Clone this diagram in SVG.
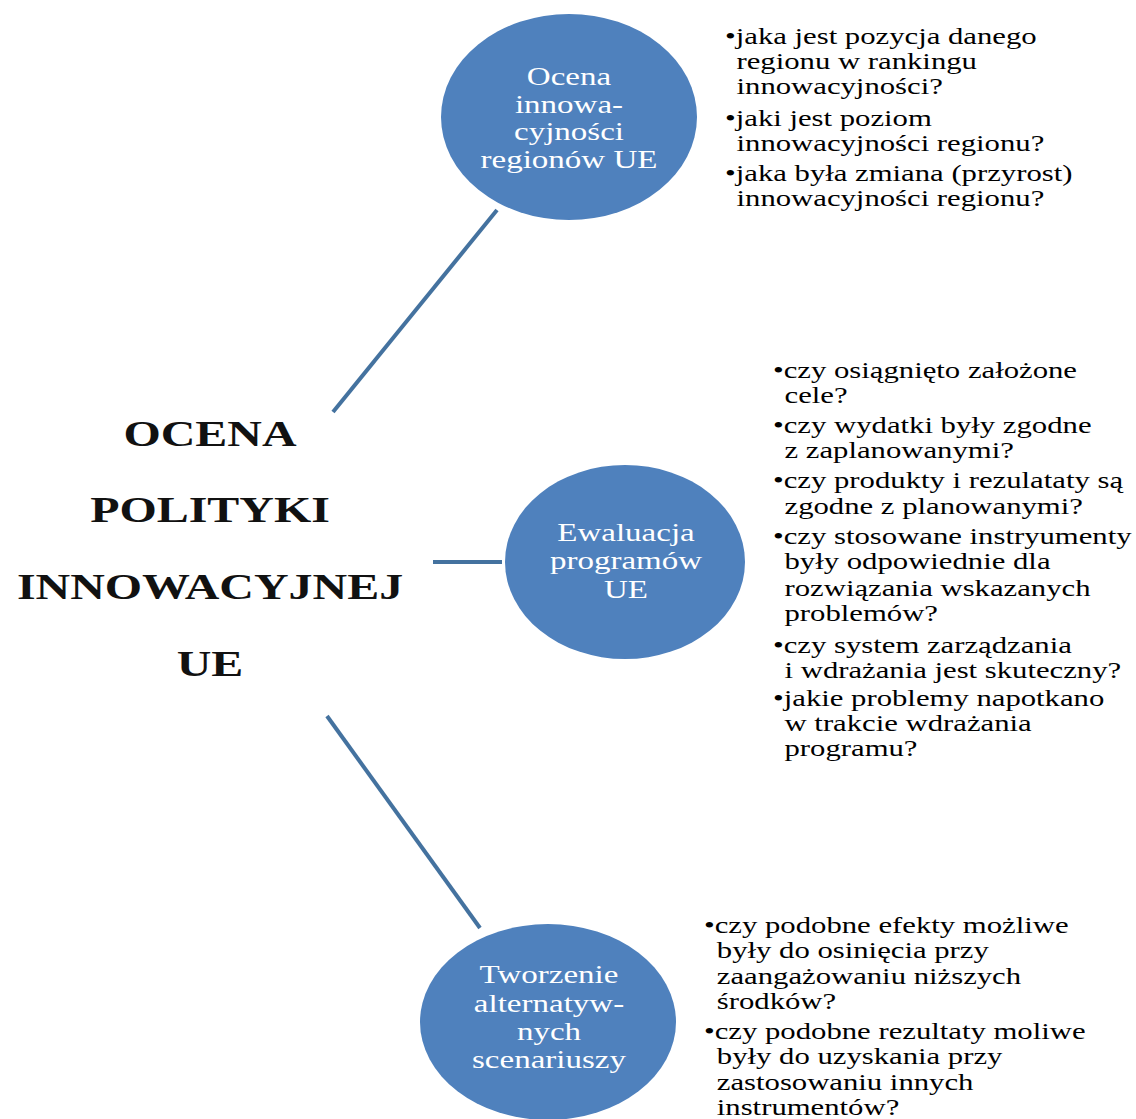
<svg xmlns="http://www.w3.org/2000/svg" width="1136" height="1119" viewBox="0 0 1136 1119">
<style>
.node{fill:#4F81BD;}
.ntxt{font-family:"Liberation Serif",serif;font-size:26px;fill:#ffffff;text-anchor:middle;}
.list{font-family:"Liberation Serif",serif;font-size:24px;fill:#000000;}
.title{font-family:"Liberation Serif",serif;font-size:35px;font-weight:bold;fill:#111111;text-anchor:middle;}
.conn{stroke:#44729F;stroke-width:4;fill:none;}
</style>
<rect width="1136" height="1119" fill="#ffffff"/>
<g id="connectors">
<line class="conn" x1="333" y1="412" x2="497" y2="210"/>
<line class="conn" x1="433" y1="562" x2="502" y2="562"/>
<line class="conn" x1="327" y1="716" x2="480" y2="928"/>
</g>
<g id="root">
<g transform="translate(210,0) scale(1.37,1)">
<text class="title" x="0" y="446">OCENA</text>
<text class="title" x="0" y="522">POLITYKI</text>
<text class="title" x="0" y="599">INNOWACYJNEJ</text>
<text class="title" x="0" y="676">UE</text>
</g>
</g>
<g id="node-ocena">
<ellipse class="node" cx="569" cy="117" rx="128" ry="103"/>
<g transform="translate(569,0) scale(1.27,1)">
<text class="ntxt" x="0" y="85">Ocena</text>
<text class="ntxt" x="0" y="113">innowa-</text>
<text class="ntxt" x="0" y="140">cyjności</text>
<text class="ntxt" x="0" y="168">regionów UE</text>
</g>
</g>
<g id="list-ocena">
<g transform="translate(725,0) scale(1.28,1)">
<text class="list" y="44"><tspan x="0">•jaka jest pozycja danego</tspan></text>
<text class="list" y="69"><tspan x="9">regionu w rankingu</tspan></text>
<text class="list" y="94"><tspan x="9">innowacyjności?</tspan></text>
<text class="list" y="126"><tspan x="0">•jaki jest poziom</tspan></text>
<text class="list" y="151"><tspan x="9">innowacyjności regionu?</tspan></text>
<text class="list" y="181"><tspan x="0">•jaka była zmiana (przyrost)</tspan></text>
<text class="list" y="206"><tspan x="9">innowacyjności regionu?</tspan></text>
</g>
</g>
<g id="node-ewaluacja">
<ellipse class="node" cx="625" cy="562" rx="120" ry="97"/>
<g transform="translate(626,0) scale(1.27,1)">
<text class="ntxt" x="0" y="541">Ewaluacja</text>
<text class="ntxt" x="0" y="569">programów</text>
<text class="ntxt" x="0" y="598">UE</text>
</g>
</g>
<g id="list-ewaluacja">
<g transform="translate(773,0) scale(1.28,1)">
<text class="list" y="378"><tspan x="0">•czy osiągnięto założone</tspan></text>
<text class="list" y="403"><tspan x="9">cele?</tspan></text>
<text class="list" y="433"><tspan x="0">•czy wydatki były zgodne</tspan></text>
<text class="list" y="458"><tspan x="9">z zaplanowanymi?</tspan></text>
<text class="list" y="488"><tspan x="0">•czy produkty i rezulataty są</tspan></text>
<text class="list" y="514"><tspan x="9">zgodne z planowanymi?</tspan></text>
<text class="list" y="544"><tspan x="0">•czy stosowane instryumenty</tspan></text>
<text class="list" y="569"><tspan x="9">były odpowiednie dla</tspan></text>
<text class="list" y="596"><tspan x="9">rozwiązania wskazanych</tspan></text>
<text class="list" y="621"><tspan x="9">problemów?</tspan></text>
<text class="list" y="653"><tspan x="0">•czy system zarządzania</tspan></text>
<text class="list" y="678"><tspan x="9">i wdrażania jest skuteczny?</tspan></text>
<text class="list" y="706"><tspan x="0">•jakie problemy napotkano</tspan></text>
<text class="list" y="731"><tspan x="9">w trakcie wdrażania</tspan></text>
<text class="list" y="756"><tspan x="9">programu?</tspan></text>
</g>
</g>
<g id="node-tworzenie">
<ellipse class="node" cx="548" cy="1022" rx="128" ry="98"/>
<g transform="translate(549,0) scale(1.27,1)">
<text class="ntxt" x="0" y="983">Tworzenie</text>
<text class="ntxt" x="0" y="1012">alternatyw-</text>
<text class="ntxt" x="0" y="1040">nych</text>
<text class="ntxt" x="0" y="1068">scenariuszy</text>
</g>
</g>
<g id="list-tworzenie">
<g transform="translate(704,0) scale(1.28,1)">
<text class="list" y="933"><tspan x="0">•czy podobne efekty możliwe</tspan></text>
<text class="list" y="958"><tspan x="10">były do osinięcia przy</tspan></text>
<text class="list" y="984"><tspan x="10">zaangażowaniu niższych</tspan></text>
<text class="list" y="1009"><tspan x="10">środków?</tspan></text>
<text class="list" y="1039"><tspan x="0">•czy podobne rezultaty moliwe</tspan></text>
<text class="list" y="1064"><tspan x="10">były do uzyskania przy</tspan></text>
<text class="list" y="1090"><tspan x="10">zastosowaniu innych</tspan></text>
<text class="list" y="1115"><tspan x="10">instrumentów?</tspan></text>
</g>
</g>
</svg>
